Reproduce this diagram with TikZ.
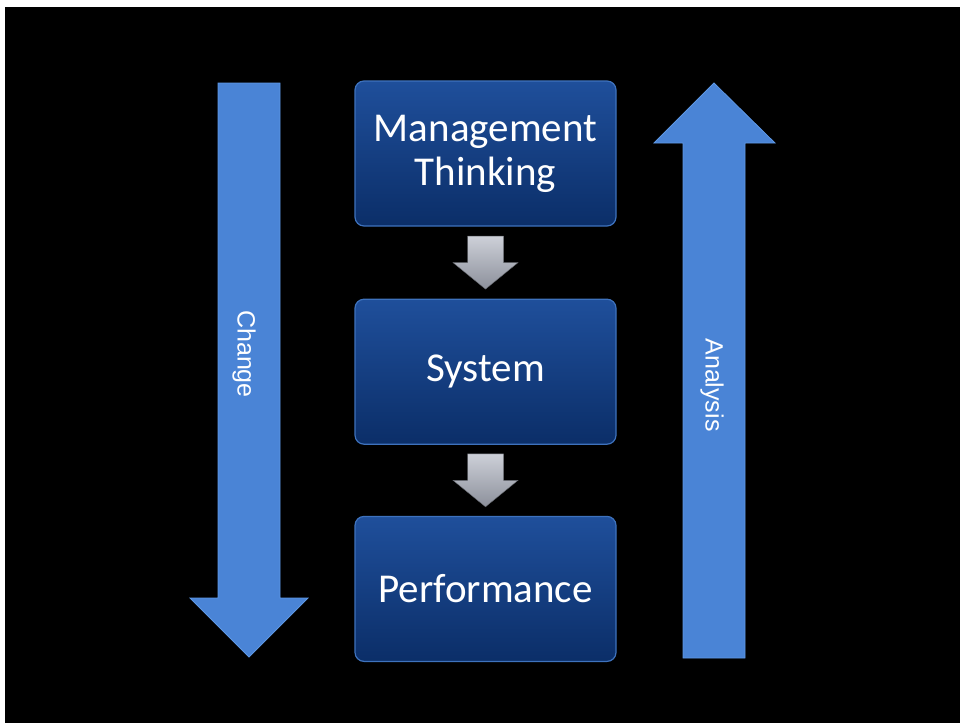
\documentclass[tikz,border=0pt]{standalone}
\usepackage{fontspec}
\setmainfont{Carlito}
\newfontfamily\arialfont{Liberation Sans}
\usetikzlibrary{positioning, calc}
\definecolor{boxtop}{HTML}{1F4F9B}
\definecolor{boxbottom}{HTML}{0B2E68}
\definecolor{boxedge}{HTML}{3E72BD}
\definecolor{sideblue}{HTML}{4A84D6}
\definecolor{sideedge}{HTML}{5E98E6}
\definecolor{greytop}{HTML}{CDD0D8}
\definecolor{greybottom}{HTML}{8C909B}

\begin{document}
\begin{tikzpicture}[x=1pt, y=-1pt,
  stepbox/.style={rectangle, rounded corners=9pt, minimum width=261pt, minimum height=145pt, draw=boxedge, line width=1.2pt, top color=boxtop, bottom color=boxbottom, text=white, align=center, font=\fontsize{41}{44}\selectfont},
  sidelabel/.style={text=white, font=\arialfont\fontsize{25}{30}\selectfont, rotate=-90},
  greyarrow/.style={top color=greytop, bottom color=greybottom, draw=greybottom!70!black, line width=0.4pt},
  sidearrow/.style={fill=sideblue, draw=sideedge, line width=0.8pt}]
% Page and black slide
\useasboundingbox (0,0) rectangle (960,723);
\fill[white] (0,0) rectangle (960,723);
\fill[black] (5,7) rectangle (960,723);

% Change arrow, pointing down
\draw[sidearrow] (218,83) -- (280,83) -- (280,598) -- (308,598) -- (249,657) -- (190,598) -- (218,598) -- cycle;
\node[sidelabel] (change) at (244,354) {Change};

% Analysis arrow, pointing up
\draw[sidearrow] (683,658) -- (745,658) -- (745,143) -- (775,143) -- (714,83) -- (654,143) -- (683,143) -- cycle;
\node[sidelabel] (analysis) at (712,385) {Analysis};

% The three boxes
\node[stepbox] (mgmt) at (485.5,153.5) {Management\\Thinking};
\node[stepbox, below=72pt of mgmt] (system) {System};
\node[stepbox, below=71pt of system] (perf) {Performance};

% Grey block arrows between the boxes
\foreach \a/\b/\g in {mgmt/system/gapone, system/perf/gaptwo} {
  \coordinate (\g) at ($(\a.south)!0.5!(\b.north)$);
  \draw[greyarrow] (\g) ++(-18,-26.5) -- ++(36,0) -- ++(0,26.5) -- ++(14.5,0) -- ++(-32.5,26.5) -- ++(-32.5,-26.5) -- ++(14.5,0) -- cycle;
}
\end{tikzpicture}
\end{document}
